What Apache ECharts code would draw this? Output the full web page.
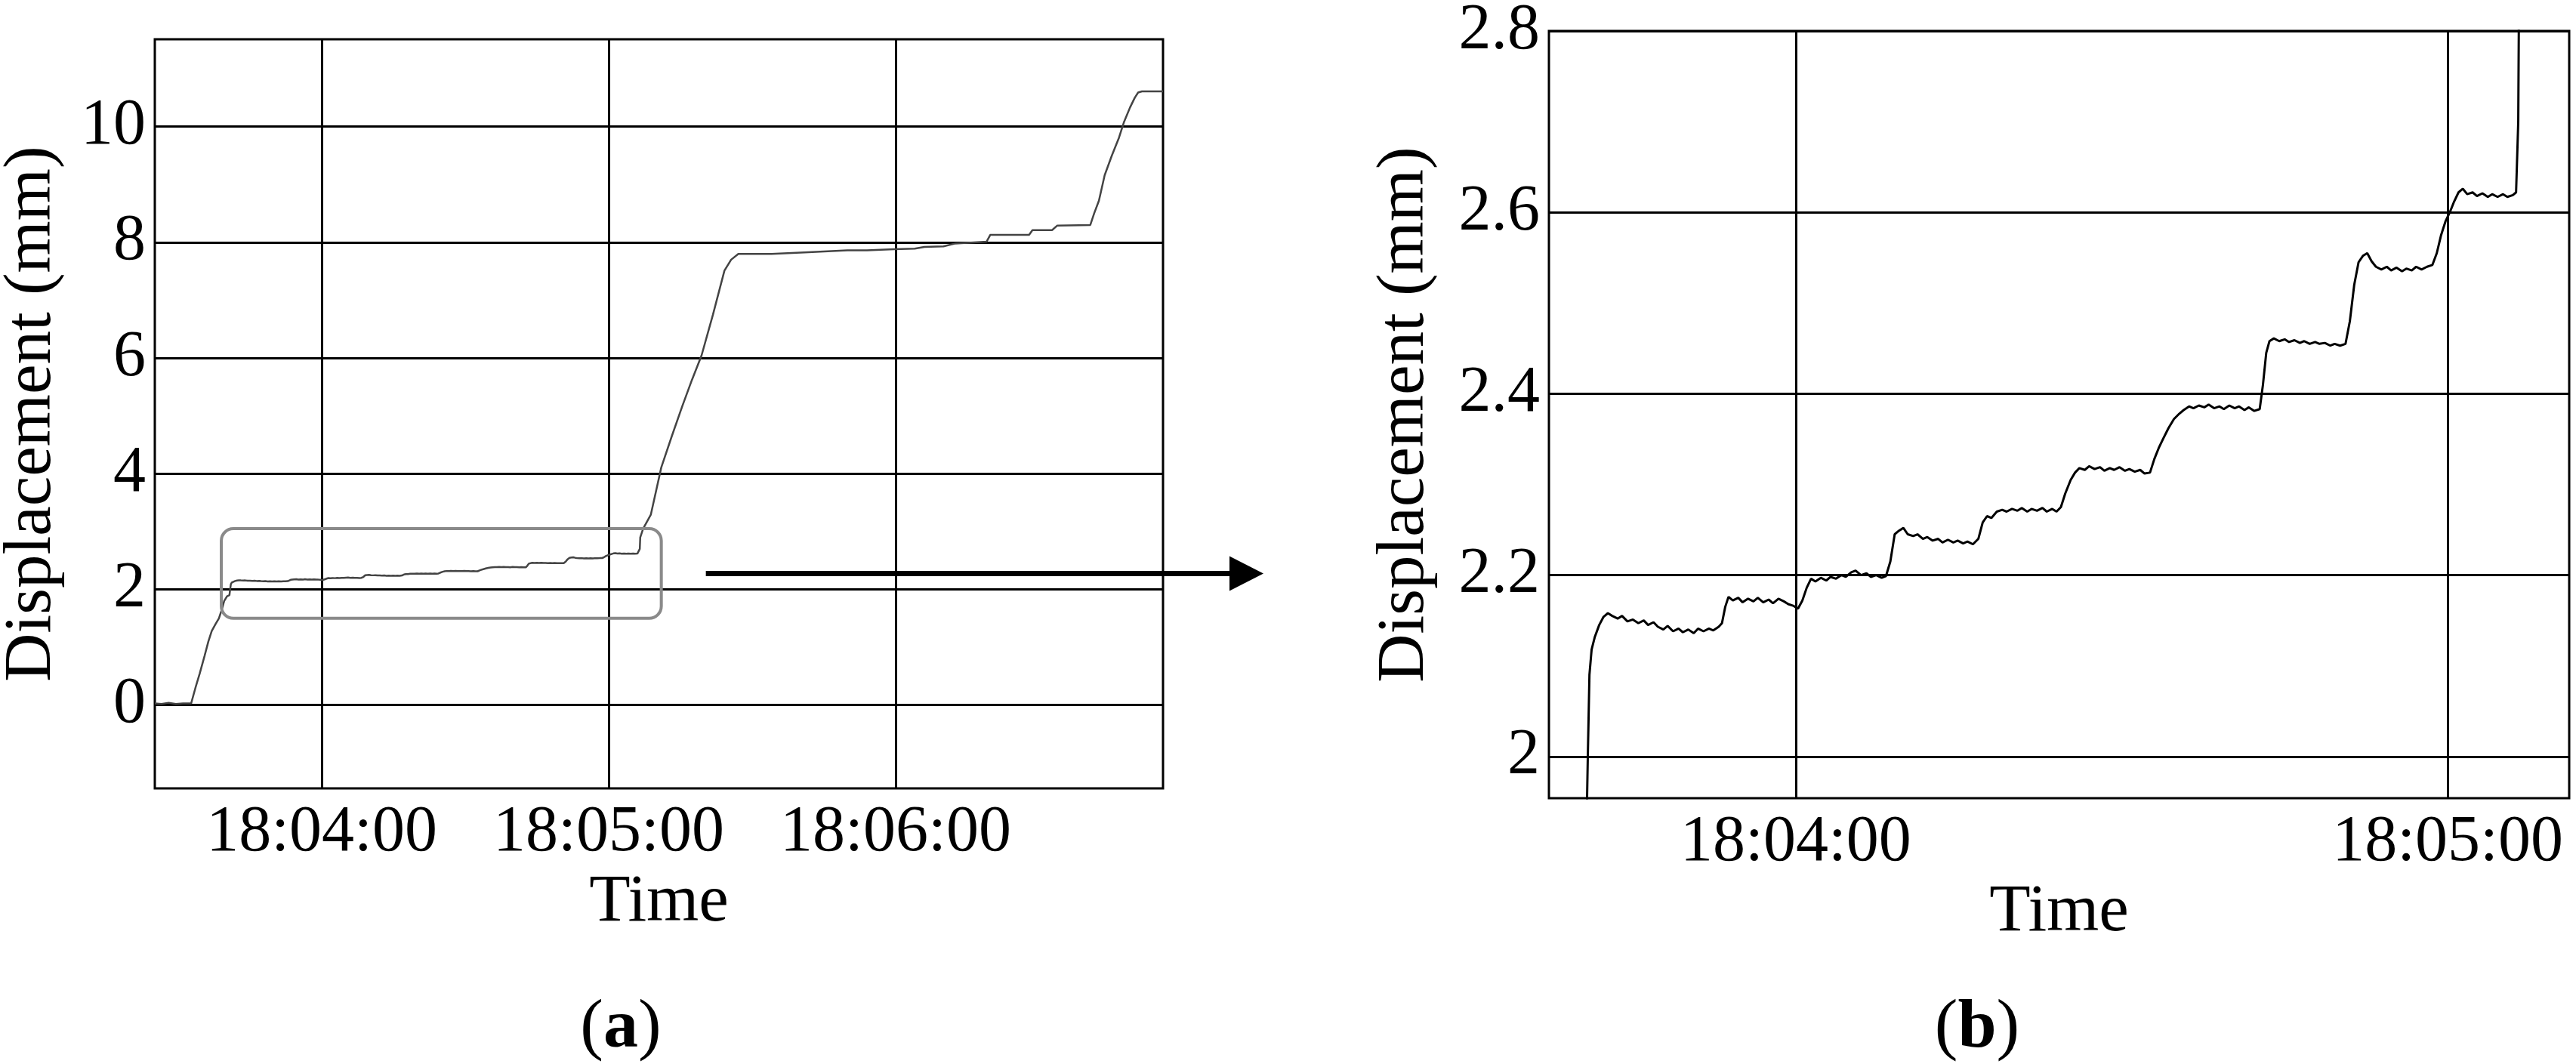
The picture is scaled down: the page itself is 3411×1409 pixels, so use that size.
<!DOCTYPE html>
<html>
<head>
<meta charset="utf-8">
<title>Displacement vs time</title>
<script src="https://cdn.jsdelivr.net/npm/echarts@6.0.0/dist/echarts.min.js"></script>
<style>
  html, body { margin: 0; padding: 0; background: #fff; }
  #main { width: 3411px; height: 1409px; }
</style>
</head>
<body>
<div id="main"></div>
<script>
/* ================= data: t = seconds after 18:00:00, v = displacement (mm) ================= */

// (a) before the zoomed window
const riseA = [
  [205.1,0.03],[206.5,0.02],[208.0,0.04],[209.5,0.02],[211.0,0.03],[212.7,0.03],
  [213.6,0.30],[214.5,0.55],[215.5,0.85],[216.3,1.10],[217.0,1.28],[217.8,1.40],
  [218.5,1.50],[219.1,1.65],[219.6,1.80],[220.2,1.88]
];

// (b) zoomed window, also part of (a)
const zoomB = [
  [220.70,1.900],[220.85,2.000],[221.00,2.090],[221.20,2.118],[221.50,2.132],[221.90,2.145],
  [222.30,2.154],[222.70,2.158],[223.10,2.155],[223.60,2.152],[224.00,2.155],[224.50,2.149],
  [225.00,2.151],[225.50,2.147],[226.00,2.150],[226.40,2.145],[226.90,2.148],[227.30,2.143],
  [227.80,2.140],[228.20,2.144],[228.70,2.138],[229.20,2.141],[229.60,2.137],[230.10,2.140],
  [230.60,2.136],[231.00,2.141],[231.50,2.138],[232.00,2.141],[232.40,2.139],[232.90,2.143],
  [233.20,2.147],[233.50,2.165],[233.80,2.176],[234.20,2.172],[234.70,2.175],[235.10,2.170],
  [235.60,2.174],[236.10,2.171],[236.50,2.175],[237.00,2.170],[237.50,2.173],[237.90,2.169],
  [238.40,2.174],[238.90,2.171],[239.30,2.168],[239.80,2.166],[240.20,2.163],[240.60,2.172],
  [241.00,2.186],[241.40,2.196],[241.80,2.193],[242.30,2.197],[242.80,2.194],[243.20,2.198],
  [243.70,2.196],[244.20,2.200],[244.60,2.198],[245.10,2.203],[245.50,2.205],[246.00,2.200],
  [246.50,2.202],[246.90,2.198],[247.40,2.200],[247.90,2.197],[248.30,2.199],[248.70,2.215],
  [249.10,2.245],[249.50,2.249],[249.90,2.252],[250.30,2.245],[250.80,2.243],[251.20,2.245],
  [251.70,2.240],[252.10,2.242],[252.60,2.238],[253.10,2.240],[253.50,2.236],[254.00,2.239],
  [254.50,2.236],[254.90,2.238],[255.40,2.235],[255.80,2.237],[256.30,2.234],[256.80,2.240],
  [257.20,2.258],[257.60,2.265],[258.00,2.263],[258.50,2.270],[259.00,2.272],[259.40,2.270],
  [259.90,2.273],[260.40,2.271],[260.80,2.274],[261.30,2.270],[261.70,2.273],[262.20,2.271],
  [262.70,2.274],[263.10,2.270],[263.60,2.273],[264.00,2.270],[264.40,2.275],[264.80,2.290],
  [265.30,2.305],[265.70,2.313],[266.10,2.318],[266.60,2.316],[267.00,2.320],[267.50,2.317],
  [268.00,2.319],[268.40,2.315],[268.90,2.318],[269.30,2.316],[269.80,2.319],[270.30,2.315],
  [270.70,2.317],[271.20,2.314],[271.70,2.316],[272.10,2.312],[272.60,2.313],[273.00,2.328],
  [273.40,2.340],[273.80,2.350],[274.30,2.362],[274.80,2.372],[275.30,2.378],[275.70,2.382],
  [276.20,2.386],[276.60,2.384],[277.10,2.387],[277.60,2.385],[278.00,2.388],[278.50,2.384],
  [279.00,2.386],[279.40,2.383],[279.90,2.387],[280.40,2.384],[280.80,2.386],[281.30,2.382],
  [281.70,2.385],[282.20,2.381],[282.70,2.383],[283.00,2.410],[283.30,2.445],[283.60,2.458],
  [284.00,2.461],[284.50,2.458],[285.00,2.460],[285.40,2.457],[285.90,2.459],[286.40,2.456],
  [286.80,2.458],[287.30,2.455],[287.80,2.457],[288.20,2.455],[288.70,2.456],[289.20,2.453],
  [289.60,2.455],[290.10,2.453],[290.60,2.455],[291.00,2.480],[291.40,2.520],[291.80,2.545],
  [292.20,2.552],[292.60,2.555],[293.00,2.546],[293.40,2.540],[293.90,2.537],[294.40,2.540],
  [294.80,2.536],[295.30,2.539],[295.80,2.535],[296.20,2.538],[296.70,2.536],[297.10,2.540],
  [297.60,2.537],[298.10,2.540],[298.60,2.542],[299.00,2.555],[299.40,2.575],[299.80,2.590],
  [300.20,2.600],[300.60,2.612],[301.00,2.622],[301.40,2.626],[301.80,2.620],[302.30,2.622],
  [302.70,2.618],[303.20,2.621],[303.70,2.617],[304.10,2.620],[304.60,2.617],[305.10,2.620],
  [305.50,2.617],[306.00,2.619],[306.30,2.622],[306.50,2.700],[306.60,2.900]
];

// (a) after the zoomed window
const tailA = [
  [307.2,3.05],[308.8,3.29],[311.0,4.11],[313.2,4.65],[315.4,5.17],[317.4,5.62],[319.4,6.04],
  [321.8,6.75],[324.2,7.51],[325.6,7.70],[327.1,7.80],[334.0,7.80],[341.8,7.83],[349.9,7.86],
  [354.0,7.86],[359.7,7.88],[364.0,7.89],[366.0,7.92],[370.0,7.93],[372.5,7.98],[379.0,8.01],
  [379.8,8.13],[387.9,8.13],[388.6,8.21],[392.7,8.21],[393.8,8.29],[400.7,8.30],[401.5,8.50],
  [402.5,8.72],[403.7,9.16],[405.2,9.50],[406.7,9.81],[407.7,10.07],[409.0,10.33],[410.0,10.50],
  [410.7,10.59],[411.5,10.61],[415.9,10.61]
];

const xTicksA = [240, 300, 360];
const yTicksA = [0, 2, 4, 6, 8, 10];
const xTicksB = [240, 300];
const yTicksB = [2.0, 2.2, 2.4, 2.6, 2.8];

// box on (a) marking the zoomed part
const zoomBoxT = [219, 311];
const zoomBoxV = [1.5, 3.05];

/* ================= helpers ================= */
const serif = 'Liberation Serif';

function clock(t) {
  const m = Math.floor(t / 60);
  const s = Math.round(t - m * 60);
  const p = n => String(n).padStart(2, '0');
  return '18:' + p(m) + ':' + p(s);
}

function timeAxis(gridIndex, min, max, ticks, gap) {
  return {
    type: 'value', gridIndex, min, max,
    name: 'Time', nameLocation: 'middle', nameGap: gap,
    nameTextStyle: { fontFamily: serif, fontSize: 89, color: '#000' },
    axisLine: { show: false },
    axisTick: { show: false, customValues: ticks },
    axisLabel: { customValues: ticks, formatter: clock, fontFamily: serif, fontSize: 86, color: '#000', margin: 16 },
    splitLine: { show: true, lineStyle: { color: '#000', width: 3 } }
  };
}

function dispAxis(gridIndex, min, max, ticks, gap) {
  return {
    type: 'value', gridIndex, min, max,
    name: 'Displacement (mm)', nameLocation: 'middle', nameGap: gap,
    nameTextStyle: { fontFamily: serif, fontSize: 89, color: '#000' },
    axisLine: { show: false },
    axisTick: { show: false, customValues: ticks },
    axisLabel: { customValues: ticks, fontFamily: serif, fontSize: 86, color: '#000', margin: 12 },
    splitLine: { show: true, lineStyle: { color: '#000', width: 3 } }
  };
}

/* ================= chart ================= */
const chart = echarts.init(document.getElementById('main'));

chart.setOption({
  animation: false,
  backgroundColor: '#fff',
  textStyle: { fontFamily: serif, color: '#000' },
  grid: [
    { left: 205, top: 52, width: 1335, height: 992, show: true, borderColor: '#000', borderWidth: 3, outerBoundsMode: 'none' },
    { left: 2051, top: 41, width: 1351, height: 1016, show: true, borderColor: '#000', borderWidth: 3, outerBoundsMode: 'none' }
  ],
  xAxis: [
    timeAxis(0, 205.1, 415.9, xTicksA, 104),
    timeAxis(1, 217.27, 311.19, xTicksB, 107)
  ],
  yAxis: [
    dispAxis(0, -1.44, 11.51, yTicksA, 118),
    dispAxis(1, 1.954, 2.8, yTicksB, 146)
  ],
  series: [
    {
      type: 'line', xAxisIndex: 0, yAxisIndex: 0,
      data: riseA.concat(zoomB, tailA),
      showSymbol: false,
      lineStyle: { color: '#444', width: 2.5 }
    },
    {
      type: 'line', xAxisIndex: 1, yAxisIndex: 1,
      data: zoomB,
      showSymbol: false,
      lineStyle: { color: '#000', width: 3 }
    }
  ]
});

/* ================= annotations: zoom box, arrow, panel letters ================= */
const tl = chart.convertToPixel({ gridIndex: 0 }, [zoomBoxT[0], zoomBoxV[1]]);
const br = chart.convertToPixel({ gridIndex: 0 }, [zoomBoxT[1], zoomBoxV[0]]);
const arrowY = (tl[1] + br[1]) / 2;
const arrowX0 = br[0] + 59;
const arrowTip = 1673;

chart.setOption({
  graphic: [
    {
      type: 'rect', z: 100,
      shape: { x: tl[0], y: tl[1], width: br[0] - tl[0], height: br[1] - tl[1], r: 16 },
      style: { fill: null, stroke: '#8a8a8a', lineWidth: 4 }
    },
    {
      type: 'line', z: 100,
      shape: { x1: arrowX0, y1: arrowY, x2: arrowTip - 42, y2: arrowY },
      style: { stroke: '#000', lineWidth: 7 }
    },
    {
      type: 'polygon', z: 100,
      shape: { points: [[arrowTip - 45, arrowY - 23], [arrowTip, arrowY], [arrowTip - 45, arrowY + 23]] },
      style: { fill: '#000' }
    },
    {
      type: 'text', x: 822, y: 1362, z: 100,
      style: {
        text: '({b|a})', align: 'center', verticalAlign: 'middle',
        font: '92px "Liberation Serif"', fill: '#000',
        rich: { b: { fontFamily: serif, fontSize: 92, fontWeight: 'bold' } }
      }
    },
    {
      type: 'text', x: 2618, y: 1362, z: 100,
      style: {
        text: '({b|b})', align: 'center', verticalAlign: 'middle',
        font: '92px "Liberation Serif"', fill: '#000',
        rich: { b: { fontFamily: serif, fontSize: 92, fontWeight: 'bold' } }
      }
    }
  ]
});
</script>
</body>
</html>
